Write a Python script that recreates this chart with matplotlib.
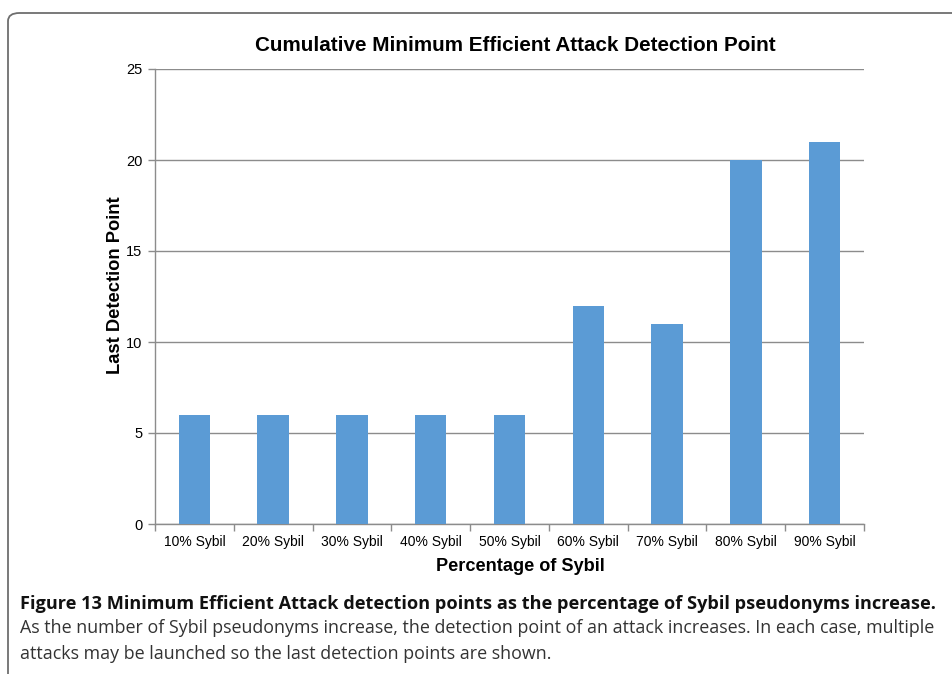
import matplotlib
matplotlib.use("Agg")
import matplotlib.pyplot as plt
from matplotlib.patches import FancyBboxPatch

categories = ["10% Sybil", "20% Sybil", "30% Sybil", "40% Sybil", "50% Sybil",
              "60% Sybil", "70% Sybil", "80% Sybil", "90% Sybil"]
detection_points = [6, 6, 6, 6, 6, 12, 11, 20, 21]
y_ticks = [0, 5, 10, 15, 20, 25]

title = "Cumulative Minimum Efficient Attack Detection Point"
x_label = "Percentage of Sybil"
y_label = "Last Detection Point"
caption_bold = "Figure 13 Minimum Efficient Attack detection points as the percentage of Sybil pseudonyms increase."
caption_lines = [
    "As the number of Sybil pseudonyms increase, the detection point of an attack increases. In each case, multiple",
    "attacks may be launched so the last detection points are shown.",
]

W, H = 953, 674
fig = plt.figure(figsize=(W / 100, H / 100), dpi=100)
fig.patch.set_facecolor("white")

# Rounded frame around the figure panel
frame = FancyBboxPatch((8 / W, -0.2), 1.2, 1 - 13 / H + 0.2,
                       boxstyle="round,pad=0,rounding_size=0.012",
                       transform=fig.transFigure, fill=False,
                       edgecolor="#6e6e6e", linewidth=1.3, clip_on=False)
fig.patches.append(frame)

ax = fig.add_axes([155 / W, 1 - 524 / H, (864 - 155) / W, (524 - 69) / H])
x = list(range(len(categories)))
ax.bar(x, detection_points, width=0.4, color="#5B9BD5", zorder=3)

ax.set_xlim(-0.5, len(categories) - 0.5)
ax.set_ylim(0, 25)
ax.set_yticks(y_ticks)
ax.set_yticklabels([str(v) for v in y_ticks], fontsize=10.5, family="Liberation Sans")
ax.set_xticks(x)
ax.set_xticklabels(categories, fontsize=10, family="Liberation Sans")
ax.tick_params(axis="x", length=0, pad=8)
ax.set_xticks([i - 0.5 for i in range(len(categories) + 1)], minor=True)
ax.tick_params(axis="x", which="minor", length=5, color="#8c8c8c", width=1)
ax.tick_params(axis="y", length=5, color="#8c8c8c", width=1, pad=4)

ax.grid(axis="y", color="#8c8c8c", linewidth=1, zorder=0)
for side in ["top", "right"]:
    ax.spines[side].set_visible(False)
for side in ["left", "bottom"]:
    ax.spines[side].set_color("#8c8c8c")
    ax.spines[side].set_linewidth(1)

ax.set_title(title, fontsize=14.9, fontweight="bold", family="Liberation Sans",
             pad=13, x=0.508)
ax.set_xlabel(x_label, fontsize=13.1, fontweight="bold", family="Liberation Sans")
ax.set_ylabel(y_label, fontsize=13.2, fontweight="bold", family="Liberation Sans")
ax.xaxis.set_label_coords(0.516, -0.075)
ax.yaxis.set_label_coords(-0.0437, 0.525)

fig.text(20 / W, 1 - 604 / H, caption_bold, fontsize=13.05, fontweight="bold",
         family="Open Sans", va="center", ha="left", color="#111111")
for i, line in enumerate(caption_lines):
    fig.text(20 / W, 1 - (628 + 26 * i) / H, line, fontsize=12.85,
             family="Open Sans", va="center", ha="left", color="#333333")

fig.savefig("out.png", dpi=100, facecolor="white")
